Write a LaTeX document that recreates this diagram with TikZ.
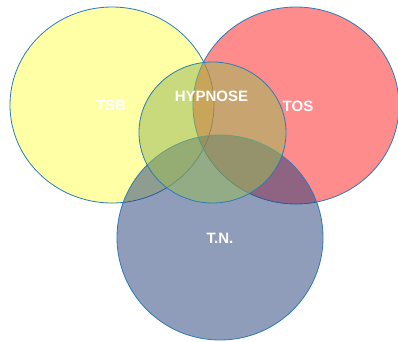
\documentclass[tikz,border=0pt]{standalone}
\usepackage{fontspec}
\setmainfont{Liberation Sans}
\definecolor{ringline}{HTML}{2C7BB6}
\definecolor{setyellow}{HTML}{FFFF00}
\definecolor{setred}{HTML}{FF0000}
\definecolor{setblue}{HTML}{1F3C78}
\definecolor{setgreen}{HTML}{9BBB59}
\tikzset{
  ring/.style={draw=ringline, line width=0.8pt},
  setlabel/.style={text=white, inner sep=0pt, font=\bfseries\fontsize{15}{17}\selectfont}
}
\begin{document}
\begin{tikzpicture}[x=1pt,y=-1pt]
  \useasboundingbox (0,0) rectangle (398,341);
  % the four sets, back to front
  \filldraw[ring, fill=setyellow, fill opacity=0.35] (112,105) ellipse [x radius=102, y radius=98];
  \node[setlabel] (tsb) at (111,105.5) {TSB};
  \filldraw[ring, fill=setred, fill opacity=0.45] (296,105.5) ellipse [x radius=103, y radius=98.5];
  \node[setlabel] (tos) at (298,106.5) {TOS};
  \filldraw[ring, fill=setblue, fill opacity=0.5] (220,237.5) ellipse [x radius=103, y radius=102.5];
  \filldraw[ring, fill=setgreen, fill opacity=0.54] (212.5,132.5) ellipse [x radius=73.5, y radius=70.5];
  \node[setlabel] (hyp) at (211.5,96.5) {HYPNOSE};
  \node[setlabel] (tn) at (220,238) {T.N.};
\end{tikzpicture}
\end{document}
